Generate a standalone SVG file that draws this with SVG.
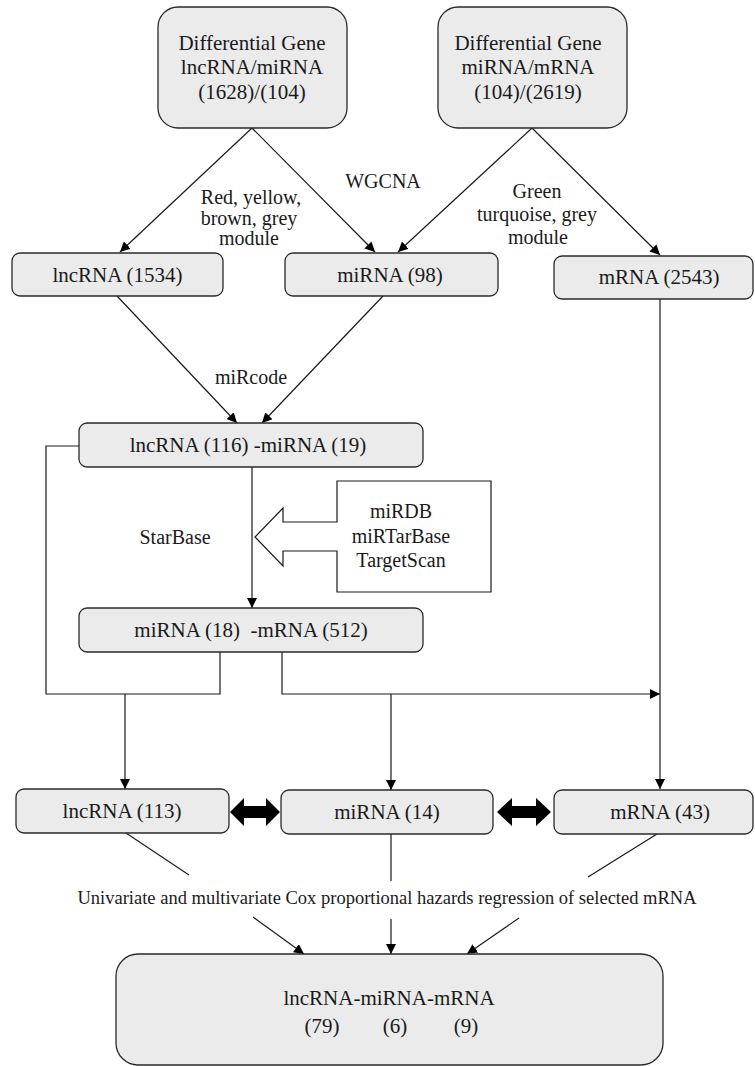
<svg xmlns="http://www.w3.org/2000/svg" width="755" height="1066" viewBox="0 0 755 1066">
<style>
.box{fill:#ebebeb;stroke:#2a2a2a;stroke-width:1.3}
.t{font-family:"Liberation Serif","Times New Roman",serif;font-size:21px;fill:#1a1a1a;text-anchor:middle}
.l{font-family:"Liberation Serif","Times New Roman",serif;font-size:20px;fill:#1a1a1a;text-anchor:middle}
.c{fill:none;stroke:#1a1a1a;stroke-width:1.2}
.ca{fill:none;stroke:#1a1a1a;stroke-width:1.2;marker-end:url(#ah)}
</style>
<defs>
<marker id="ah" markerUnits="userSpaceOnUse" markerWidth="10" markerHeight="10" refX="10" refY="5" orient="auto">
<path d="M0,0 L10,5 L0,10 z" fill="#000"/>
</marker>
</defs>
<g id="connectors">
<line class="ca" x1="252" y1="128" x2="120" y2="252"/>
<line class="ca" x1="252" y1="128" x2="375" y2="252"/>
<line class="ca" x1="532" y1="128" x2="398" y2="252"/>
<line class="ca" x1="532" y1="128" x2="660" y2="255"/>
<line class="ca" x1="117" y1="296" x2="237" y2="423"/>
<line class="ca" x1="383" y1="296" x2="262" y2="423"/>
<polyline class="c" points="79,446 46,446 46,694 220,694 220,652"/>
<line class="ca" x1="252" y1="467" x2="252" y2="608"/>
<polyline class="ca" points="282,652 282,694 660,694"/>
<line class="ca" x1="660" y1="299" x2="660" y2="789"/>
<line class="ca" x1="125" y1="694" x2="125" y2="789"/>
<line class="ca" x1="391" y1="694" x2="391" y2="790"/>
<line class="c" x1="126" y1="833" x2="189" y2="875"/>
<line class="c" x1="391" y1="834" x2="391" y2="881"/>
<line class="c" x1="657" y1="834" x2="588" y2="877"/>
<line class="ca" x1="253" y1="917" x2="304" y2="954"/>
<line class="ca" x1="391" y1="919" x2="391" y2="954"/>
<line class="ca" x1="519" y1="918" x2="467" y2="954"/>
<polygon points="230,812 244,798 244,806 266,806 266,798 280,812 266,826 266,818 244,818 244,826" fill="#000"/>
<polygon points="497,812 512,798 512,806 536,806 536,798 551,812 536,826 536,818 512,818 512,826" fill="#000"/>
</g>
<g id="labels">
<text class="l" x="251" y="204">Red, yellow,</text>
<text class="l" x="249" y="224.5">brown, grey</text>
<text class="l" x="249" y="245">module</text>
<text class="l" x="383" y="188">WGCNA</text>
<text class="l" x="537" y="198">Green</text>
<text class="l" x="537" y="221">turquoise, grey</text>
<text class="l" x="538" y="244">module</text>
<text class="l" x="251" y="384">miRcode</text>
<text class="l" x="175" y="544">StarBase</text>
<text class="l" x="387" y="904" style="font-size:18.5px">Univariate and multivariate Cox proportional hazards regression of selected mRNA</text>
</g>
<g id="db-arrow">
<polygon points="337,481 491,481 491,592 337,592 337,551 283,551 283,566 255,537 283,508 283,522 337,522" fill="#fff" stroke="#1a1a1a" stroke-width="1.2"/>
<text class="l" x="401" y="518">miRDB</text>
<text class="l" x="401" y="542.5">miRTarBase</text>
<text class="l" x="401" y="567">TargetScan</text>
</g>
<g id="n-diff1">
<rect class="box" x="158" y="7" width="189" height="121" rx="20"/>
<text class="t" x="252" y="49.5">Differential Gene</text>
<text class="t" x="252" y="74">lncRNA/miRNA</text>
<text class="t" x="252" y="98.5">(1628)/(104)</text>
</g>
<g id="n-diff2">
<rect class="box" x="438" y="7" width="189" height="121" rx="20"/>
<text class="t" x="528" y="49.5">Differential Gene</text>
<text class="t" x="528" y="74">miRNA/mRNA</text>
<text class="t" x="528" y="98.5">(104)/(2619)</text>
</g>
<g id="n-lnc1534">
<rect class="box" x="12" y="253" width="211" height="43" rx="8"/>
<text class="t" x="117.5" y="282">lncRNA (1534)</text>
</g>
<g id="n-mi98">
<rect class="box" x="285" y="253" width="213" height="43" rx="8"/>
<text class="t" x="390" y="282">miRNA (98)</text>
</g>
<g id="n-m2543">
<rect class="box" x="554" y="256" width="199" height="43" rx="8"/>
<text class="t" x="659" y="284">mRNA (2543)</text>
</g>
<g id="n-lncmi">
<rect class="box" x="79" y="423" width="344" height="44" rx="8"/>
<text class="t" x="248" y="452">lncRNA (116) -miRNA (19)</text>
</g>
<g id="n-mim">
<rect class="box" x="79" y="608" width="344" height="44" rx="8"/>
<text class="t" x="251" y="637" xml:space="preserve">miRNA (18)  -mRNA (512)</text>
</g>
<g id="n-lnc113">
<rect class="box" x="16" y="789" width="213" height="44" rx="8"/>
<text class="t" x="122" y="818">lncRNA (113)</text>
</g>
<g id="n-mi14">
<rect class="box" x="281" y="790" width="212" height="44" rx="8"/>
<text class="t" x="387" y="819">miRNA (14)</text>
</g>
<g id="n-m43">
<rect class="box" x="554" y="790" width="199" height="44" rx="8"/>
<text class="t" x="660" y="819">mRNA (43)</text>
</g>
<g id="n-final">
<rect class="box" x="116" y="954" width="547" height="111" rx="22"/>
<text class="t" x="389" y="1005">lncRNA-miRNA-mRNA</text>
<text class="t" x="322" y="1033">(79)</text>
<text class="t" x="395" y="1033">(6)</text>
<text class="t" x="466" y="1033">(9)</text>
</g>
</svg>
